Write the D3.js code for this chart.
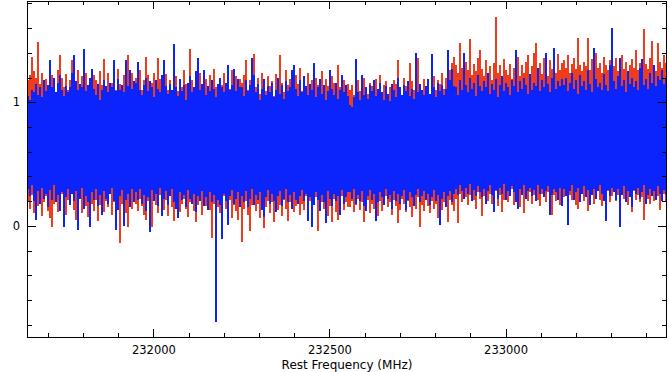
<!DOCTYPE html>
<html>
<head>
<meta charset="utf-8">
<script src="https://cdn.jsdelivr.net/npm/d3@7"></script>
<style>
  body { margin: 0; background: #fff; }
  svg { display: block; }
  .tick text { font-family: "DejaVu Sans", sans-serif; font-size: 11.5px; fill: #000; }
</style>
</head>
<body>
<div id="spec"></div>
<script>
// spectrum channel grid (each channel = one plotted column)
var freqStart = 231641,
    chanWidth = 5.68;

// tick labels
var xMajorTicks = [232000, 232500, 233000];
var yMajorTicks = [0, 1];

// upper / lower extent of each channel column
var blueHi = [
  1.05, 1.02, 1.10, 1.08, 1.15, 1.06, 1.12, 1.04, 1.18, 1.09, 1.14, 1.34, 1.12, 1.20, 1.08, 1.16, 1.22, 1.10, 1.05, 1.13,
  1.08, 1.12, 1.24, 1.38, 1.17, 1.10, 1.15, 1.12, 1.43, 1.09, 1.14, 1.20, 1.27, 1.11, 1.06, 1.15, 1.02, 1.10, 1.18, 1.13,
  1.08, 1.16, 1.12, 1.34, 1.09, 1.19, 1.10, 1.14, 1.08, 1.34, 1.13, 1.26, 1.11, 1.17,
  1.16, 1.33, 1.10, 1.06, 1.14, 1.20, 1.09, 1.17, 1.12, 1.04, 1.18, 1.11, 1.08, 1.22, 1.34, 1.13, 1.07, 1.15, 1.10, 1.47,
  1.12, 1.05, 1.19, 1.09, 1.14, 1.02, 1.16, 1.21, 1.08, 1.12, 1.25, 1.36, 1.10, 1.15, 1.26, 1.06, 1.13, 1.09, 1.18, 1.11,
  1.04, 1.15, 1.20, 1.12, 1.08, 1.16, 1.30, 1.10, 1.14, 1.27, 1.09, 1.19, 1.12,
  1.12, 1.05, 1.18, 1.09, 1.14, 1.36, 1.22, 1.08, 1.15, 1.02, 1.11, 1.19, 1.06, 1.13, 1.08, 1.16, 1.04, 1.10, 1.20, 1.07,
  1.14, 1.03, 1.17, 1.09, 1.12, 1.26, 1.30, 1.11, 1.05, 1.18, 1.08, 1.21, 1.13, 1.06, 1.15, 1.10, 1.32, 1.04, 1.12, 1.19,
  1.07, 1.14, 1.02, 1.09, 1.26, 1.11, 1.06, 1.16, 1.03, 1.10, 1.22, 1.08, 1.14, 1.05,
  0.98, 0.96, 1.04, 1.35, 1.08, 1.02, 1.22, 1.06, 1.12, 1.03, 1.14, 1.09, 1.18, 1.05, 1.11, 1.16, 1.08, 1.02, 1.13, 1.07,
  1.01, 1.15, 1.10, 1.04, 1.20, 1.12, 1.06, 1.14, 1.09, 1.17, 1.05, 1.11, 1.03, 1.40, 1.08, 1.15, 1.10, 1.06, 1.13, 1.19,
  1.07, 1.39, 1.12, 1.04, 1.16, 1.09, 1.14, 1.06, 1.11, 1.42, 1.18, 1.27, 1.13,
  1.12, 1.06, 1.18, 1.10, 1.40, 1.14, 1.08, 1.20, 1.11, 1.16, 1.05, 1.22, 1.13, 1.09, 1.17, 1.12, 1.24, 1.07, 1.15, 1.10,
  1.19, 1.04, 1.14, 1.21, 1.09, 1.16, 1.12, 1.06, 1.18, 1.13, 1.42, 1.08, 1.17, 1.11, 1.20, 1.14, 1.07, 1.23, 1.10, 1.16,
  1.13, 1.28, 1.09, 1.18, 1.12, 1.40, 1.15, 1.08, 1.20, 1.44, 1.11, 1.17, 1.13, 1.19,
  1.14, 1.20, 1.09, 1.16, 1.24, 1.11, 1.18, 1.07, 1.22, 1.13, 1.17, 1.10, 1.26, 1.15, 1.08, 1.44, 1.19, 1.12, 1.16, 1.10,
  1.23, 1.14, 1.09, 1.30, 1.60, 1.17, 1.11, 1.21, 1.36, 1.13, 1.18, 1.08, 1.25, 1.15, 1.20, 1.12, 1.17, 1.10, 1.28, 1.35,
  1.14, 1.19, 1.11, 1.24, 1.16, 1.30, 1.13, 1.21, 1.18, 1.26, 1.15, 1.20
];
var blueLo = [
  0.30, 0.24, 0.33, 0.20, 0.05, 0.28, 0.18, 0.31, 0.22, 0.26, 0.15, 0.29, 0.21, 0.33, 0.19, 0.25, 0.12, 0.27, -0.01, 0.23,
  0.30, 0.17, 0.26, 0.20, 0.28, -0.03, 0.22, 0.31, 0.14, 0.24, 0.19, -0.01, 0.27, 0.21, 0.30, 0.16, 0.25, 0.09, 0.28, 0.22,
  0.18, 0.26, 0.31, 0.20, -0.03, 0.13, 0.24, 0.29, 0.00, 0.21, 0.26, 0.15, 0.30, 0.19,
  0.27, 0.21, 0.30, 0.18, 0.25, 0.12, 0.23, -0.05, 0.29, 0.20, 0.26, 0.16, 0.31, 0.08, 0.22, 0.28, 0.17, 0.24, 0.30, 0.19,
  0.14, 0.06, 0.27, 0.21, 0.25, 0.15, 0.29, 0.22, 0.18, 0.26, 0.11, 0.24, 0.20, 0.28, 0.16, 0.23, 0.13, 0.27, 0.19, 0.25,
  -0.78, 0.21, 0.17, -0.11, 0.26, 0.20, 0.01, 0.24, 0.29, 0.18, 0.22, 0.27, 0.15,
  0.24, 0.19, 0.28, 0.15, 0.22, 0.30, 0.17, 0.25, 0.21, 0.27, 0.13, 0.07, 0.23, 0.29, 0.18, 0.26, 0.20, 0.11, 0.24, 0.28,
  0.16, 0.22, 0.30, 0.19, 0.25, 0.14, 0.27, 0.21, 0.18, 0.24, 0.29, 0.20, 0.26, 0.04, 0.23, -0.01, 0.17, 0.27, 0.21, 0.12,
  0.25, 0.19, 0.02, 0.28, 0.22, 0.16, 0.26, 0.20, 0.24, 0.09, 0.29, 0.18, 0.23, 0.27,
  0.27, 0.22, 0.30, 0.18, 0.25, 0.20, 0.28, 0.16, 0.12, 0.24, 0.29, 0.21, 0.26, 0.04, 0.19, 0.27, 0.23, 0.17, 0.30, 0.22,
  0.25, 0.14, 0.28, 0.20, 0.26, 0.18, 0.24, 0.29, 0.13, 0.21, 0.27, 0.23, 0.16, 0.25, 0.30, 0.19, 0.24, 0.28, 0.21, 0.26,
  0.17, 0.23, 0.29, 0.20, 0.25, 0.01, 0.22, 0.27, 0.15, 0.24, 0.28, 0.19, 0.26,
  0.30, 0.25, 0.33, 0.28, 0.22, 0.31, 0.26, 0.34, 0.20, 0.29, 0.24, 0.32, 0.27, 0.23, 0.30, 0.18, 0.28, 0.33, 0.25, 0.11,
  0.29, 0.22, 0.31, 0.26, 0.34, 0.21, 0.28, 0.24, 0.32, 0.27, 0.19, 0.14, 0.30, 0.25, 0.33, 0.22, 0.28, 0.31, 0.24, 0.29,
  0.20, 0.33, 0.26, 0.30, 0.23, 0.28, 0.32, 0.09, 0.25, 0.30, 0.27, 0.21, 0.31, 0.16,
  0.30, 0.24, 0.01, 0.28, 0.33, 0.21, 0.27, 0.31, 0.19, 0.26, 0.32, 0.23, 0.29, 0.17, 0.25, 0.30, 0.22, 0.28, 0.33, 0.26,
  0.20, 0.04, 0.29, 0.24, 0.31, 0.27, 0.21, 0.30, -0.01, 0.25, 0.32, 0.19, 0.28, 0.23, 0.15, 0.29, 0.26, 0.31, 0.22, 0.27,
  0.33, 0.18, 0.25, 0.30, 0.24, 0.28, 0.21, 0.32, 0.26, 0.20, 0.29, 0.25
];
var redHi = [
  1.18, 1.22, 1.37, 1.25, 1.20, 1.49, 1.15, 1.24, 1.10, 1.19, 1.12, 1.08, 1.22, 1.16, 1.05, 1.26, 1.38, 1.20, 1.12, 1.23,
  1.10, 1.18, 1.34, 1.33, 1.08, 1.26, 1.14, 1.21, 1.06, 1.24, 1.02, 1.16, 1.10, 1.22, 1.18, 1.08, 1.25, 1.14, 1.35, 1.12,
  1.24, 1.06, 1.16, 1.20, 1.10, 1.27, 1.15, 1.08, 1.22, 1.12, 1.38, 1.16, 1.24, 1.10,
  1.20, 1.14, 1.26, 1.10, 1.18, 1.37, 1.22, 1.08, 1.16, 1.24, 1.12, 1.36, 1.19, 1.06, 1.15, 1.23, 1.10, 1.18, 1.04, 1.13,
  1.21, 1.09, 1.17, 1.12, 1.26, 1.15, 1.06, 1.43, 1.18, 1.11, 1.20, 1.08, 1.24, 1.14, 1.02, 1.19, 1.10, 1.22, 1.16, 1.27,
  1.12, 1.05, 1.20, 1.14, 1.24, 1.09, 1.18, 1.11, 1.26, 1.15, 1.21, 1.13, 1.19,
  1.16, 1.22, 1.34, 1.10, 1.18, 1.25, 1.39, 1.12, 1.20, 1.07, 1.24, 1.15, 1.09, 1.21, 1.13, 1.17, 1.05, 1.23, 1.11, 1.38,
  1.16, 1.08, 1.26, 1.14, 1.19, 1.10, 1.06, 1.22, 1.15, 1.28, 1.09, 1.17, 1.12, 1.24, 1.03, 1.18, 1.11, 1.20, 1.14, 1.07,
  1.25, 1.10, 1.19, 1.13, 1.06, 1.21, 1.16, 1.08, 1.30, 1.12, 1.04, 1.18, 1.10, 1.15,
  1.10, 1.14, 1.06, 1.12, 1.18, 1.09, 1.15, 1.20, 1.11, 1.07, 1.16, 1.13, 1.04, 1.19, 1.10, 1.22, 1.08, 1.14, 1.17, 1.05,
  1.12, 1.09, 1.18, 1.15, 1.34, 1.11, 1.06, 1.20, 1.13, 1.08, 1.32, 1.17, 1.10, 1.22, 1.36, 1.14, 1.09, 1.19, 1.12, 1.16,
  1.07, 1.13, 1.21, 1.10, 1.18, 1.15, 1.24, 1.11, 1.20, 1.17, 1.26, 1.32, 1.37,
  1.30, 1.24, 1.48, 1.28, 1.20, 1.33, 1.26, 1.51, 1.22, 1.31, 1.25, 1.36, 1.42, 1.27, 1.21, 1.34, 1.23, 1.29, 1.18, 1.32,
  1.69, 1.24, 1.30, 1.20, 1.35, 1.26, 1.22, 1.31, 1.19, 1.28, 1.25, 1.37, 1.21, 1.30, 1.24, 1.33, 1.38, 1.22, 1.29, 1.40,
  1.48, 1.26, 1.32, 1.23, 1.36, 1.28, 1.21, 1.34, 1.27, 1.30, 1.24, 1.39, 1.26, 1.32,
  1.34, 1.28, 1.38, 1.24, 1.31, 1.36, 1.27, 1.52, 1.30, 1.25, 1.33, 1.29, 1.52, 1.26, 1.35, 1.22, 1.40, 1.28, 1.32, 1.24,
  1.37, 1.30, 1.26, 1.34, 1.21, 1.29, 1.36, 1.25, 1.31, 1.38, 1.27, 1.33, 1.23, 1.30, 1.35, 1.28, 1.42, 1.26, 1.32, 1.29,
  1.59, 1.31, 1.27, 1.36, 1.50, 1.30, 1.25, 1.48, 1.33, 1.28, 1.38, 1.32
];
var redLo = [
  0.20, 0.14, 0.25, 0.10, 0.22, 0.16, 0.28, 0.08, 0.19, 0.24, 0.12, 0.06, -0.01, 0.18, 0.23, 0.11, 0.20, 0.26, 0.15, 0.09,
  0.21, 0.17, 0.27, 0.13, 0.05, 0.19, 0.24, 0.10, 0.22, 0.16, 0.07, 0.25, 0.18, 0.12, 0.21, 0.04, 0.17, 0.23, 0.11, 0.20,
  0.15, 0.26, 0.09, 0.19, 0.22, 0.13, -0.14, 0.18, 0.24, 0.10, -0.01, 0.20, 0.14, 0.23,
  0.18, 0.12, 0.22, 0.16, 0.09, 0.05, 0.20, 0.14, -0.01, 0.23, 0.17, 0.10, 0.25, 0.19, 0.13, 0.21, 0.08, 0.24, 0.15, 0.04,
  0.20, 0.26, 0.11, 0.18, 0.22, 0.14, 0.07, 0.19, 0.25, 0.12, 0.03, 0.17, 0.21, 0.09, 0.24, 0.16, 0.20, 0.13, -0.10, 0.18,
  0.22, 0.15, 0.10, 0.19, 0.24, 0.14, 0.08, 0.21, 0.06, 0.17, 0.12, 0.05, 0.20,
  -0.13, 0.14, 0.20, 0.09, -0.04, 0.17, 0.22, 0.12, 0.18, 0.06, 0.24, -0.02, 0.15, 0.20, 0.10, 0.19, 0.03, 0.23, 0.13, 0.17,
  0.08, 0.21, 0.14, 0.04, 0.19, 0.25, 0.11, 0.16, 0.22, 0.09, 0.18, 0.13, 0.24, 0.15, 0.20, 0.10, 0.17, 0.23, -0.04, 0.12,
  0.19, 0.14, 0.21, 0.08, 0.16, 0.03, 0.22, 0.11, 0.05, 0.18, 0.24, 0.13, 0.19, 0.15,
  0.15, 0.20, 0.11, 0.17, 0.22, 0.13, 0.19, 0.03, 0.16, 0.21, 0.10, 0.18, 0.14, 0.23, 0.08, 0.20, 0.12, 0.17, 0.24, 0.15,
  0.19, 0.09, 0.21, 0.16, 0.02, 0.13, 0.22, 0.18, 0.11, 0.20, 0.15, 0.07, 0.19, 0.14, 0.23, -0.01, 0.17, 0.12, 0.21, 0.16,
  0.10, 0.20, 0.14, 0.18, 0.06, 0.22, 0.13, 0.19, 0.15, 0.03, 0.21, 0.17, 0.12,
  0.22, 0.02, 0.26, 0.19, 0.28, 0.23, 0.17, 0.25, 0.30, 0.21, 0.14, 0.27, 0.22, 0.08, 0.24, 0.29, 0.20, 0.26, 0.18, 0.23,
  0.28, 0.16, 0.25, 0.11, 0.21, 0.27, 0.19, 0.24, 0.30, 0.17, 0.26, 0.22, 0.15, 0.28, 0.10, 0.24, 0.20, 0.27, 0.18, 0.25,
  0.29, 0.21, 0.16, 0.26, 0.23, 0.19, 0.27, 0.22, 0.09, 0.25, 0.20, 0.28, 0.17, 0.24,
  0.23, 0.27, 0.19, 0.25, 0.21, 0.28, 0.17, 0.14, 0.24, 0.29, 0.20, 0.26, 0.12, 0.22, 0.27, 0.18, 0.25, 0.30, 0.21, 0.16,
  0.26, 0.23, 0.28, 0.19, 0.24, 0.29, 0.20, 0.25, 0.18, 0.27, 0.22, 0.26, 0.17, 0.24, 0.11, 0.28, 0.21, 0.25, 0.19, 0.23,
  0.05, 0.27, 0.22, 0.18, 0.26, 0.20, 0.29, 0.24, 0.13, 0.21, 0.26, 0.19
];

var W = 669, H = 372;
var plot = { left: 27, right: 667, top: 1, bottom: 337 };

var svg = d3.select("#spec")
    .append("svg")
    .attr("width", W)
    .attr("height", H);

svg.append("rect").attr("width", W).attr("height", H).attr("fill", "#fff");

var x = d3.scaleLinear()
    .domain([freqStart, freqStart + chanWidth * blueHi.length])
    .range([plot.left, plot.right]);

var y = d3.scaleLinear()
    .domain([-0.9, 1.82])
    .range([plot.bottom, plot.top]);

// draw one spectrum as min-max columns
function drawSeries(hi, lo, colour) {
    svg.append("g")
        .attr("shape-rendering", "crispEdges")
        .selectAll("rect")
        .data(hi)
        .enter()
        .append("rect")
        .attr("x", function (d, i) { return x(freqStart + i * chanWidth); })
        .attr("width", function (d, i) { return x(freqStart + (i + 1) * chanWidth) - x(freqStart + i * chanWidth); })
        .attr("y", function (d) { return y(d); })
        .attr("height", function (d, i) { return y(lo[i]) - y(d); })
        .attr("fill", colour);
}

drawSeries(redHi, redLo, "#ee3c1c");
drawSeries(blueHi, blueLo, "#0a24fb");

// axes, ticks point inwards on all four sides
var xMinor = d3.range(231700, 233459, 100).filter(function (v) { return xMajorTicks.indexOf(v) < 0; });
var yMinor = d3.range(-8, 19, 2).map(function (v) { return v / 10; }).filter(function (v) { return yMajorTicks.indexOf(v) < 0; });

function addAxis(axis, tx, ty) {
    var g = svg.append("g")
        .attr("transform", "translate(" + tx + "," + ty + ")")
        .attr("shape-rendering", "crispEdges")
        .call(axis);
    g.select(".domain").remove();
    g.selectAll("line").attr("stroke", "#000");
    return g;
}

addAxis(d3.axisBottom(x).tickValues(xMajorTicks).tickSize(-8).tickPadding(9).tickFormat(d3.format("d")), 0, plot.bottom);
addAxis(d3.axisBottom(x).tickValues(xMinor).tickSize(-4).tickFormat(""), 0, plot.bottom);
addAxis(d3.axisTop(x).tickValues(xMajorTicks).tickSize(-8).tickFormat(""), 0, plot.top);
addAxis(d3.axisTop(x).tickValues(xMinor).tickSize(-4).tickFormat(""), 0, plot.top);

addAxis(d3.axisLeft(y).tickValues(yMajorTicks).tickSize(-9).tickPadding(10.5).tickFormat(d3.format("d")), plot.left, 0)
    .selectAll("text").attr("text-anchor", "middle");
addAxis(d3.axisLeft(y).tickValues(yMinor).tickSize(-5).tickFormat(""), plot.left, 0);
addAxis(d3.axisRight(y).tickValues(yMajorTicks).tickSize(-9).tickFormat(""), plot.right, 0);
addAxis(d3.axisRight(y).tickValues(yMinor).tickSize(-5).tickFormat(""), plot.right, 0);

// frame
svg.append("rect")
    .attr("x", plot.left + 0.5)
    .attr("y", plot.top + 0.5)
    .attr("width", plot.right - plot.left - 1)
    .attr("height", plot.bottom - plot.top)
    .attr("fill", "none")
    .attr("stroke", "#000")
    .attr("stroke-width", 1.2)
    .attr("shape-rendering", "crispEdges");

svg.append("text")
    .attr("x", (plot.left + plot.right) / 2)
    .attr("y", 368.5)
    .attr("text-anchor", "middle")
    .attr("font-family", "DejaVu Sans, sans-serif")
    .attr("font-size", "12px")
    .attr("fill", "#000")
    .text("Rest Frequency (MHz)");
</script>
</body>
</html>
